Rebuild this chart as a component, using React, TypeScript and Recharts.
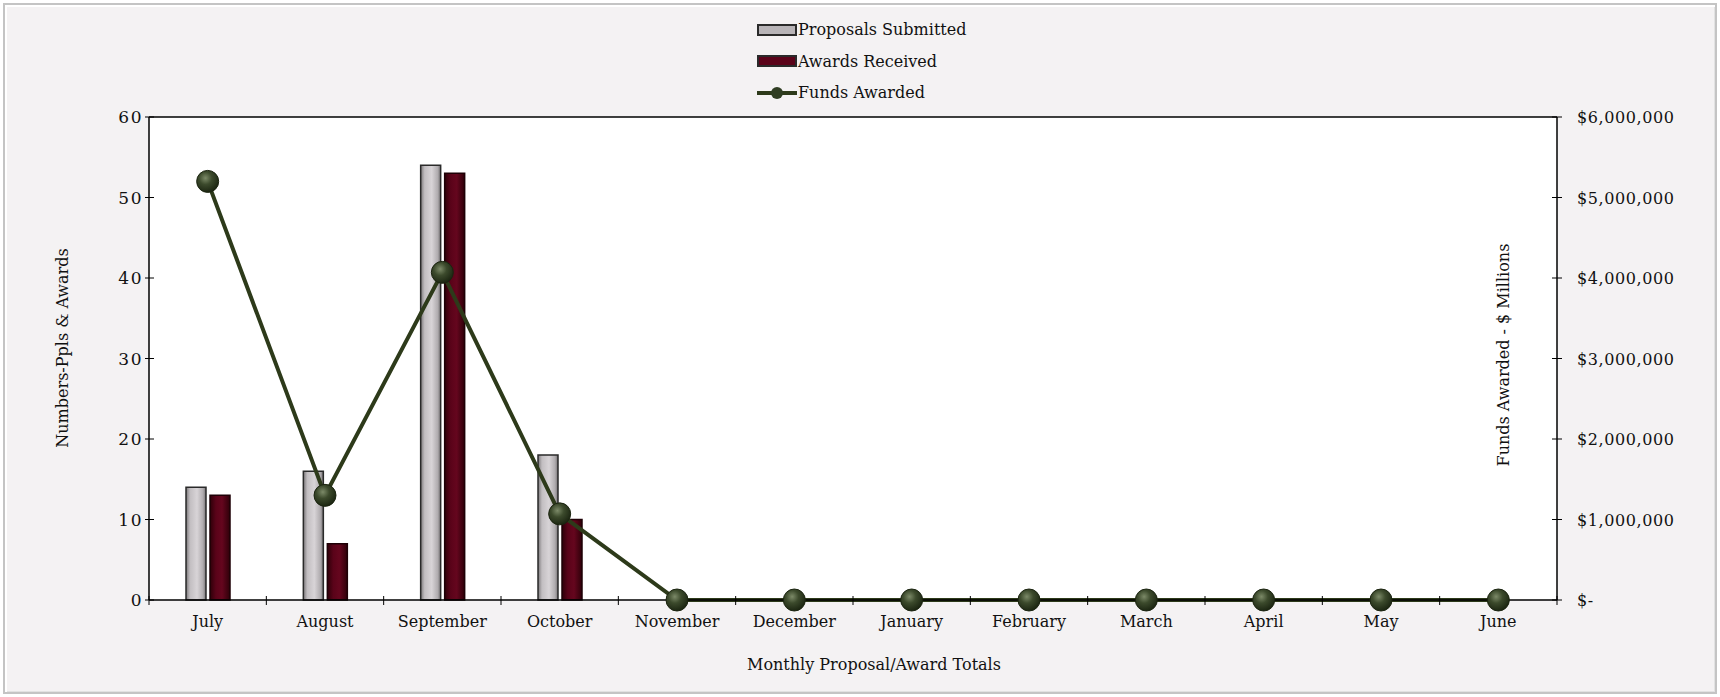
import React from "react";
import {
  ComposedChart,
  Bar,
  Line,
  XAxis,
  YAxis,
  CartesianGrid,
  ReferenceLine,
  Label,
} from "recharts";

// chart data
const months = [
  "July", "August", "September", "October", "November", "December",
  "January", "February", "March", "April", "May", "June",
];
const proposalsSubmitted = [14, 16, 54, 18, 0, 0, 0, 0, 0, 0, 0, 0];
const awardsReceived = [13, 7, 53, 10, 0, 0, 0, 0, 0, 0, 0, 0];
const fundsAwarded = [5200000, 1300000, 4070000, 1070000, 0, 0, 0, 0, 0, 0, 0, 0];
const leftTicks = [0, 10, 20, 30, 40, 50, 60];
const rightTicks = [0, 1000000, 2000000, 3000000, 4000000, 5000000, 6000000];

const FONT = "'DejaVu Serif', serif";
const W = 1720;
const H = 697;
const PLOT_LEFT = 149;
const PLOT_RIGHT = 1557;
const PLOT_TOP = 117;
const PLOT_BOTTOM = 600;
const BAND = (PLOT_RIGHT - PLOT_LEFT) / months.length;

if (typeof document !== "undefined") document.body.style.margin = "0";

const chartData = months.map((m, i) => ({
  month: m,
  proposals: proposalsSubmitted[i],
  awards: awardsReceived[i],
  funds: fundsAwarded[i],
}));

const fmtMoney = (v: number) =>
  v === 0 ? "$-" : "$" + v.toLocaleString("en-US");

const MonthTick = (props: any) => {
  const { x, y, payload, index } = props;
  const half = BAND / 2;
  return (
    <g>
      <line x1={x - half} x2={x - half} y1={y - 4} y2={y + 5} stroke="#000" strokeWidth={1} />
      {index === months.length - 1 && (
        <line x1={x + half} x2={x + half} y1={y - 4} y2={y + 5} stroke="#000" strokeWidth={1} />
      )}
      <text x={x} y={y + 27} textAnchor="middle" fontFamily={FONT} fontSize={16} fill="#111">
        {payload.value}
      </text>
    </g>
  );
};

const LeftTick = (props: any) => {
  const { x, y, payload } = props;
  return (
    <g>
      <line x1={x - 4} x2={x + 5} y1={y} y2={y} stroke="#000" strokeWidth={1} />
      <text x={x - 6} y={y + 6} textAnchor="end" fontFamily={FONT} fontSize={17} letterSpacing={1.5} fill="#111">
        {payload.value}
      </text>
    </g>
  );
};

const RightTick = (props: any) => {
  const { x, y, payload } = props;
  return (
    <g>
      <line x1={x - 5} x2={x + 5} y1={y} y2={y} stroke="#000" strokeWidth={1} />
      <text x={x + 20} y={y + 6} textAnchor="start" fontFamily={FONT} fontSize={16} letterSpacing={0.6} fill="#111">
        {fmtMoney(payload.value)}
      </text>
    </g>
  );
};

const BarGradients = () => (
  <defs>
    <linearGradient id="gradGray" x1="0" y1="0" x2="1" y2="0">
      <stop offset="0%" stopColor="#7a7779" />
      <stop offset="20%" stopColor="#c2bec1" />
      <stop offset="55%" stopColor="#d8d4d7" />
      <stop offset="85%" stopColor="#b0acaf" />
      <stop offset="100%" stopColor="#747173" />
    </linearGradient>
    <linearGradient id="gradRed" x1="0" y1="0" x2="1" y2="0">
      <stop offset="0%" stopColor="#2e0009" />
      <stop offset="30%" stopColor="#5a0319" />
      <stop offset="60%" stopColor="#65061e" />
      <stop offset="100%" stopColor="#2e0009" />
    </linearGradient>
    <radialGradient id="gradDot" cx="40%" cy="35%" r="65%">
      <stop offset="0%" stopColor="#7c8a68" />
      <stop offset="45%" stopColor="#3c4a2c" />
      <stop offset="100%" stopColor="#1c2612" />
    </radialGradient>
  </defs>
);

const FundsDot = (props: any) => {
  const { cx, cy } = props;
  if (cx == null || cy == null) return null;
  return <circle cx={cx} cy={cy} r={11} fill="url(#gradDot)" stroke="#1b2410" strokeWidth={1} />;
};

const LegendBox = () => {
  const rows = [
    { label: "Proposals Submitted", kind: "gray" },
    { label: "Awards Received", kind: "red" },
    { label: "Funds Awarded", kind: "line" },
  ];
  return (
    <div style={{ fontFamily: FONT, fontSize: 16, color: "#111" }}>
      {rows.map((r) => (
        <div key={r.label} style={{ display: "flex", alignItems: "center", height: 31.5 }}>
          <svg width={40} height={14} style={{ marginRight: 1 }}>
            {r.kind === "line" ? (
              <g>
                <line x1={0} x2={40} y1={7} y2={7} stroke="#2d3a1a" strokeWidth={4} />
                <circle cx={20} cy={7} r={6} fill="#2f3d22" />
              </g>
            ) : (
              <rect
                x={1}
                y={2}
                width={38}
                height={10}
                fill={r.kind === "gray" ? "#b8b4b7" : "#5a0319"}
                stroke="#2a2a2a"
                strokeWidth={2}
              />
            )}
          </svg>
          <span>{r.label}</span>
        </div>
      ))}
    </div>
  );
};

const App: React.FC = () => {
  return (
    <div
      style={{
        position: "relative",
        width: W,
        height: H,
        background: "#ffffff",
      }}
    >
      <div
        style={{
          position: "absolute",
          left: 3,
          top: 3,
          width: W - 10,
          height: H - 10,
          background: "#f4f2f3",
          border: "2px solid #c4c4c4",
          boxShadow: "inset 2px 2px 0 #ffffff, inset -1px -1px 0 #e2e2e2",
        }}
      />
      <div style={{ position: "absolute", left: 757, top: 14, width: 240 }}>
        <LegendBox />
      </div>
      <div style={{ position: "absolute", left: 0, top: 0 }}>
        <ComposedChart
          width={W}
          height={H}
          data={chartData}
          margin={{ top: PLOT_TOP, bottom: 0, left: 0, right: 0 }}
          barSize={20}
          barGap={4}
        >
          <BarGradients />
          <CartesianGrid horizontal={false} vertical={false} fill="#ffffff" />
          <XAxis
            dataKey="month"
            xAxisId="x"
            tickSize={0}
            tickMargin={0}
            tick={<MonthTick />}
            interval={0}
            axisLine={{ stroke: "#000", strokeWidth: 1.5 }}
            height={H - PLOT_BOTTOM}
          >
            <Label
              content={() => (
                <text x={874} y={670} textAnchor="middle" fontFamily={FONT} fontSize={16} fill="#111">
                  Monthly Proposal/Award Totals
                </text>
              )}
            />
          </XAxis>
          <YAxis
            yAxisId="left"
            orientation="left"
            width={PLOT_LEFT}
            domain={[0, 60]}
            ticks={leftTicks}
            tickSize={0}
            tickMargin={0}
            tick={<LeftTick />}
            axisLine={{ stroke: "#000", strokeWidth: 1.5 }}
          >
            <Label
              content={() => (
                <text
                  x={62}
                  y={348}
                  transform="rotate(-90 62 348)"
                  textAnchor="middle"
                  dominantBaseline="central"
                  fontFamily={FONT}
                  fontSize={16}
                  fill="#111"
                >
                  Numbers-Ppls &amp; Awards
                </text>
              )}
            />
          </YAxis>
          <YAxis
            yAxisId="right"
            orientation="right"
            width={W - PLOT_RIGHT}
            domain={[0, 6000000]}
            ticks={rightTicks}
            tickSize={0}
            tickMargin={0}
            tick={<RightTick />}
            axisLine={{ stroke: "#000", strokeWidth: 1.5 }}
          >
            <Label
              content={() => (
                <text
                  x={1503}
                  y={355}
                  transform="rotate(-90 1503 355)"
                  textAnchor="middle"
                  dominantBaseline="central"
                  fontFamily={FONT}
                  fontSize={16}
                  fill="#111"
                >
                  Funds Awarded - $ Millions
                </text>
              )}
            />
          </YAxis>
          <ReferenceLine yAxisId="left" xAxisId="x" y={60} stroke="#000" strokeWidth={1.5} />
          <Bar
            xAxisId="x"
            yAxisId="left"
            dataKey="proposals"
            name="Proposals Submitted"
            fill="url(#gradGray)"
            stroke="#2a2a2a"
            strokeWidth={1.5}
            isAnimationActive={false}
          />
          <Bar
            xAxisId="x"
            yAxisId="left"
            dataKey="awards"
            name="Awards Received"
            fill="url(#gradRed)"
            stroke="#1e0006"
            strokeWidth={1.5}
            isAnimationActive={false}
          />
          <Line
            xAxisId="x"
            yAxisId="right"
            type="linear"
            dataKey="funds"
            name="Funds Awarded"
            stroke="#2d3a1a"
            strokeWidth={4}
            dot={<FundsDot />}
            activeDot={false}
            isAnimationActive={false}
          />
        </ComposedChart>
      </div>
    </div>
  );
};

export default App;
